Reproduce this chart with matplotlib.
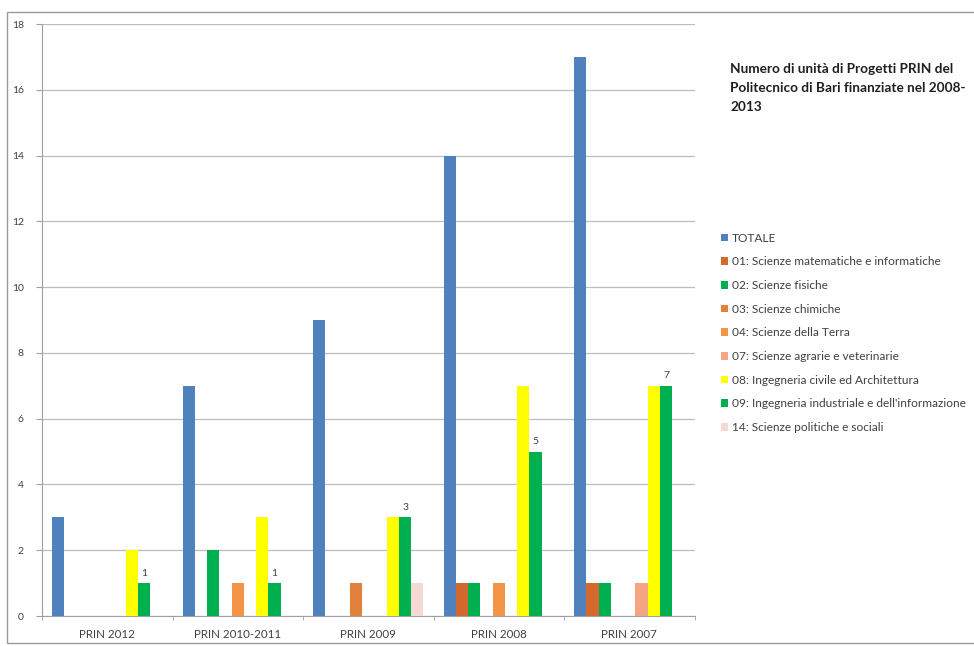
import matplotlib
matplotlib.use('Agg')
import matplotlib.pyplot as plt
from matplotlib.patches import Rectangle
import numpy as np

plt.rcParams['font.family'] = ['Lato', 'DejaVu Sans']

# PRIN calls and number of funded units per scientific area
categories = ['PRIN 2012', 'PRIN 2010-2011', 'PRIN 2009', 'PRIN 2008', 'PRIN 2007']
series_names = [
    'TOTALE',
    '01: Scienze matematiche e informatiche',
    '02: Scienze fisiche',
    '03: Scienze chimiche',
    '04: Scienze della Terra',
    '07: Scienze agrarie e veterinarie',
    '08: Ingegneria civile ed Architettura',
    "09: Ingegneria industriale e dell'informazione",
    '14: Scienze politiche e sociali',
]
totale = [3, 7, 9, 14, 17]
area_01 = [0, 0, 0, 1, 1]
area_02 = [0, 2, 0, 1, 1]
area_03 = [0, 0, 1, 0, 0]
area_04 = [0, 1, 0, 1, 0]
area_07 = [0, 0, 0, 0, 1]
area_08 = [2, 3, 3, 7, 7]
area_09 = [1, 1, 3, 5, 7]
area_14 = [0, 0, 1, 0, 0]

series_values = [totale, area_01, area_02, area_03, area_04,
                 area_07, area_08, area_09, area_14]
colors = ['#4F81BD', '#D4692E', '#00B050', '#E2813B', '#F39446',
          '#F4A584', '#FFFF00', '#00B050', '#F6D9D6']

title = 'Numero di unità di Progetti PRIN del\nPolitecnico di Bari finanziate nel 2008-\n2013'

W, H = 974, 646
fig = plt.figure(figsize=(W / 100, H / 100), dpi=100)

# chart border
fig.patches.append(Rectangle((7 / W, 3 / H), 1.2, (643 - 12) / H,
                             transform=fig.transFigure, fill=False,
                             edgecolor='#9A9A9A', linewidth=1.0))

ax = fig.add_axes([42 / W, (H - 616) / H, (694.5 - 42) / W, (616 - 24) / H])

x = np.arange(len(categories))
bw = 0.094
handles = []
for i, (vals, col) in enumerate(zip(series_values, colors)):
    bars = ax.bar(x + (i - 4) * bw, vals, width=bw, color=col, zorder=3,
                  label=series_names[i])
    handles.append(bars)
    if i == 7:
        ax.bar_label(bars, labels=[str(v) for v in vals], padding=4,
                     fontsize=7.5, color='#404040')

ax.set_xlim(-0.5, len(categories) - 0.5)
ax.set_ylim(0, 18)
ax.set_yticks(range(0, 19, 2))
ax.yaxis.grid(True, color='#BDBDBD', linewidth=0.9, zorder=0)
ax.set_axisbelow(True)

ax.set_xticks(x)
ax.set_xticklabels(categories)
ax.set_xticks(np.arange(-0.5, len(categories), 1), minor=True)
ax.tick_params(axis='x', which='major', length=0, pad=9, labelsize=8.3,
               labelcolor='#404040')
ax.tick_params(axis='x', which='minor', length=3, color='#A0A0A0')
ax.tick_params(axis='y', length=4, color='#A0A0A0', labelsize=7.5,
               labelcolor='#404040', pad=9)

for s in ['top', 'right']:
    ax.spines[s].set_visible(False)
ax.spines['left'].set_color('#A0A0A0')
ax.spines['bottom'].set_color('#A0A0A0')

fig.text(730 / W, 1 - 63 / H, title, fontsize=9.8, fontweight='bold',
         color='#202020', va='top', ha='left', linespacing=1.7)

ax.legend(handles=handles, loc='upper left',
          bbox_to_anchor=(716 / W, 1 - 228 / H), bbox_transform=fig.transFigure,
          frameon=False, fontsize=8.6, handlelength=0.6, handleheight=0.6,
          handletextpad=0.3, labelspacing=1.06, labelcolor='#404040',
          borderaxespad=0)

fig.savefig('out.png', dpi=100)
